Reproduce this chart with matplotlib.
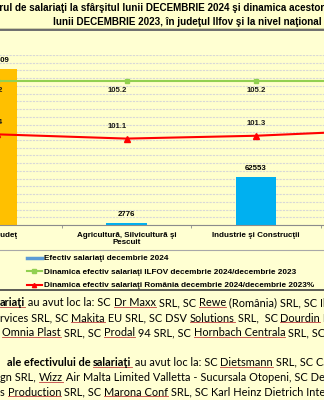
import numpy as np
import matplotlib
matplotlib.use('Agg')
import matplotlib.pyplot as plt
from matplotlib.lines import Line2D
from matplotlib.patches import Rectangle

# data
categories = ['Total judeţ', 'Agricultură, Silvicultură şi\nPescuit',
              'Industrie şi Construcţii', 'Servicii']
efectiv = [202409, 2776, 62553, 137080]
din_ilfov = [105.2, 105.2, 105.2, 105.2]
din_romania = [101.4, 101.1, 101.3, 101.7]
legend_labels = ['Efectiv salariaţi decembrie 2024',
                 'Dinamica efectiv salariaţi ILFOV decembrie 2024/decembrie 2023',
                 'Dinamica efectiv salariaţi România decembrie 2024/decembrie 2023%']
title_lines = ['Numărul de salariaţi la sfârşitul lunii DECEMBRIE 2024 şi dinamica acestora faţă de sfârşitul',
               'lunii DECEMBRIE 2023, în judeţul Ilfov şi la nivel naţional']
# body text: (text, bold, underlined) segments per line
body_lines = [
    [('ariaţi', True, True), (' au avut loc la: SC ', False, False), ('Dr Maxx', False, True),
     (' SRL, SC ', False, False), ('Rewe', False, True), (' (România) SRL, SC Ikea Services', False, False)],
    [('rvices SRL, SC ', False, False), ('Makita', False, True), (' EU SRL, SC DSV ', False, False),
     ('Solutions', False, True), (' SRL,  SC ', False, False), ('Dourdin', False, True), (' Industries', False, False)],
    [('Omnia Plast', False, True), (' SRL, SC ', False, False), ('Prodal', False, True),
     (' 94 SRL, SC ', False, False), ('Hornbach Centrala', False, True), (' SRL, SC Eurobrand', False, False)],
    None,
    [('ale efectivului de ', True, False), ('salariaţi', True, True), (' au avut loc la: SC ', False, False),
     ('Dietsmann', False, True), (' SRL, SC Cargo', False, False)],
    [('gn SRL, ', False, False), ('Wizz', False, True),
     (' Air Malta Limited Valletta - Sucursala Otopeni, SC Design', False, False)],
    [('s ', False, False), ('Production', False, True), (' SRL, SC ', False, False),
     ('Marona Conf', False, True), (' SRL, SC Karl Heinz Dietrich International', False, False)],
]
body_y = [303, 318, 333, None, 363, 377.5, 392]
body_x = [0, 0, 2, None, 7, 0, 0]

W, H = 324, 400
BG = '#ffffd2'

def fx(px):
    return px / W

def fy(py):
    return 1 - py / H

fig = plt.figure(figsize=(3.24, 4.0), dpi=100)
fig.patch.set_facecolor(BG)
plt.rcParams['font.family'] = ['Liberation Sans', 'DejaVu Sans']

# plot area, wider than the picture (the screenshot is cropped)
ax = fig.add_axes([fx(-67.75), fy(225), 518 / W, 170 / H])
ax.set_facecolor('#ffffcc')
x = np.arange(len(categories))
bar_colors = ['#ffc000', '#00b0f0', '#00b0f0', '#00b0f0']
bars = ax.bar(x, efectiv, width=0.315, color=bar_colors, zorder=2)
ax.set_ylim(0, 220000)
ax.set_yticks(np.arange(0, 220001, 10000))
ax.grid(axis='y', color='#d8d8d8', linestyle=(0, (2, 1)), linewidth=0.8)
ax.set_axisbelow(True)
ax.tick_params(axis='y', length=0, labelleft=False)
for s in ['top', 'left', 'right']:
    ax.spines[s].set_visible(False)
ax.spines['bottom'].set_color('#8c8c8c')
ax.set_xlim(-0.5, 3.5)
ax.set_xticks(x)
ax.set_xticklabels(categories, fontsize=5.8, fontweight='bold', linespacing=1.1)
ax.tick_params(axis='x', length=0, pad=5)
ax.set_xticks(np.arange(-0.5, 4, 1), minor=True)
ax.tick_params(axis='x', which='minor', length=2.5, color='#8c8c8c')

for xi, v in zip(x, efectiv):
    ax.annotate(str(v), (xi, v), xytext=(0, 6), textcoords='offset points',
                ha='center', va='center', fontsize=5.6, fontweight='bold')

ax2 = ax.twinx()
ax2.set_ylim(95, 107)
ax2.axis('off')
l1, = ax2.plot(x, din_ilfov, color='#92d050', marker='s', ms=3.5, lw=1.5, zorder=3)
l2, = ax2.plot(x, din_romania, color='#ff0000', marker='^', ms=3.8, lw=1.5, zorder=3)
label_dx = [-3, -7, 0, 0]
for xi, a, b, dx in zip(x, din_ilfov, din_romania, label_dx):
    ax2.annotate(f'{a:.1f}', (xi, a), xytext=(dx, -7.3), textcoords='offset points',
                 ha='center', va='center', fontsize=5.6, fontweight='bold', color='#1a1a1a')
    ax2.annotate(f'{b:.1f}', (xi, b), xytext=(dx, 8.6), textcoords='offset points',
                 ha='center', va='center', fontsize=5.6, fontweight='bold', color='#1a1a1a')

# title box
fig.add_artist(Rectangle((fx(-5), fy(28.5)), fx(334), 40 / H, transform=fig.transFigure,
                         facecolor='#ffffcc', edgecolor='black', lw=1.0))
fig.add_artist(Line2D([0, 1], [fy(30.2), fy(30.2)], color='#707070', lw=1.4))
fig.text(fx(189), fy(8), title_lines[0], ha='center', va='center', fontsize=7.1, fontweight='bold')
fig.text(fx(187), fy(22), title_lines[1], ha='center', va='center', fontsize=7.1, fontweight='bold')

# legend
fig.add_artist(Line2D([0, 1], [fy(250), fy(250)], color='#a8a8a8', lw=0.8))
fig.add_artist(Line2D([0, 1], [fy(290), fy(290)], color='#404040', lw=1.2))
h0 = Line2D([], [], color='#5b9bd5', lw=2.5)
fig.legend([h0, l1, l2], legend_labels, loc='upper left', bbox_to_anchor=(fx(21), fy(249)),
           frameon=False, prop={'size': 5.85, 'weight': 'bold'}, handlelength=1.9,
           handletextpad=0.25, labelspacing=0.72, borderpad=0.2, markerscale=0.8)

# body text
fig.canvas.draw()
renderer = fig.canvas.get_renderer()
underlines = []
for segs, yy, xx in zip(body_lines, body_y, body_x):
    if segs is None:
        continue
    prev = None
    for text, bold, und in segs:
        kw = dict(fontsize=7.9, family=['Lato', 'DejaVu Sans'],
                  fontweight='bold' if bold else 'normal', va='bottom', ha='left')
        if prev is None:
            t = fig.text(fx(xx), fy(yy + 5.5), text, **kw)
        else:
            t = fig.text(0, 0, text, **kw)
            bb = prev.get_window_extent(renderer)
            t.set_position(fig.transFigure.inverted().transform((bb.x1, bb.y0)))
        if und:
            underlines.append(t)
        prev = t

for t in underlines:
    bb = t.get_window_extent(renderer)
    x0, y0 = fig.transFigure.inverted().transform((bb.x0, bb.y0 + 1.2))
    x1, _ = fig.transFigure.inverted().transform((bb.x1, bb.y0))
    fig.add_artist(Line2D([x0, x1], [y0, y0], color='#c04040', lw=0.6))

fig.savefig('out.png', dpi=100, facecolor=BG)
